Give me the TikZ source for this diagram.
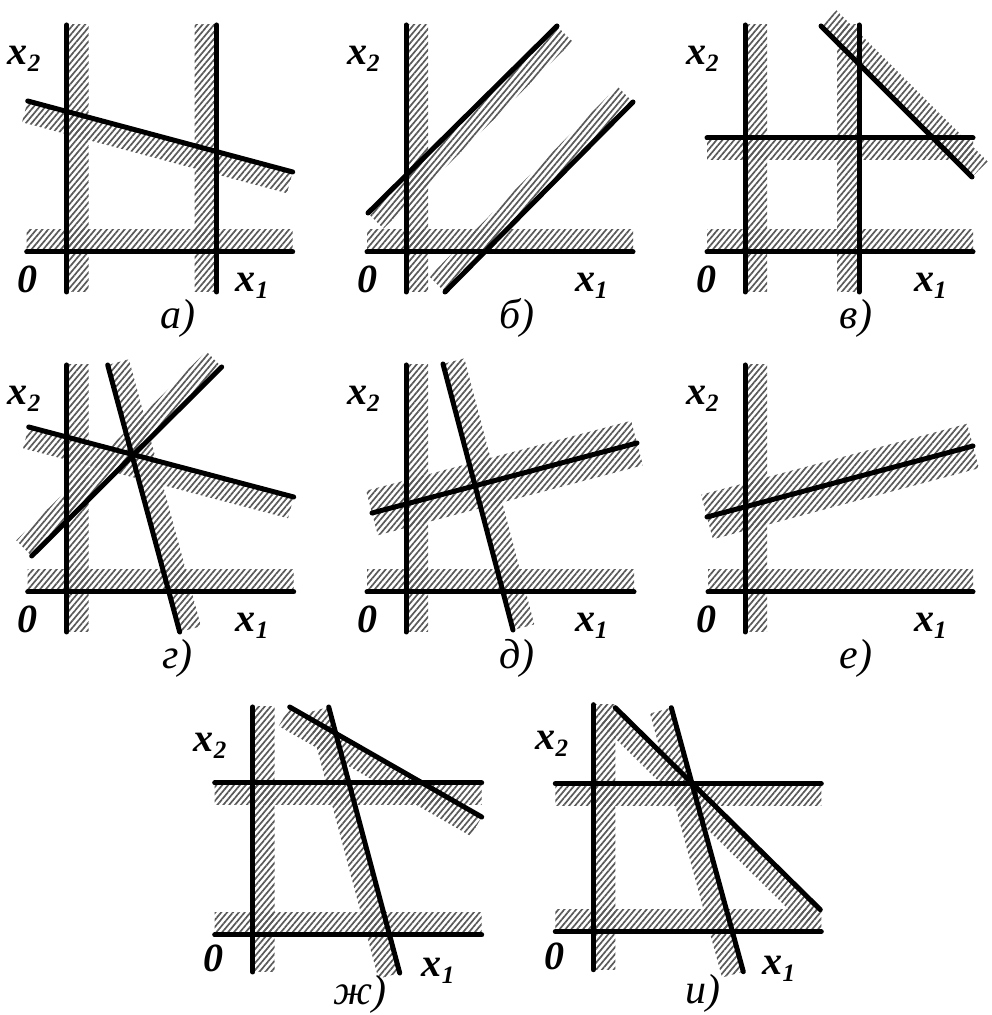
\documentclass[tikz,border=0pt]{standalone}
\usepackage{fontspec}
\setmainfont{Liberation Serif}
\usetikzlibrary{calc,patterns.meta}
\tikzset{
  hatch/.style={pattern={Lines[angle=50,distance=4.5pt,line width=1.7pt]},pattern color=black!65},
  ln/.style={line width=5pt,line cap=round},
  lab/.style={inner sep=0pt,font=\fontsize{40}{40}\selectfont\bfseries\itshape},
  captext/.style={inner sep=0pt,font=\fontsize{42}{42}\selectfont\itshape},
}
\newcommand\sub[1]{\raisebox{-7pt}{\fontsize{25}{25}\selectfont #1}}
% band on the left of A->B (negative width: right side)
\newcommand\hb[3]{\fill[hatch] (#1) -- (#2) -- ($(#2)!#3!-90:(#1)$) -- ($(#1)!#3!90:(#2)$) -- cycle;}
% band centred on A->B
\newcommand\hc[3]{\fill[hatch] ($(#1)!#3!-90:(#2)$) -- ($(#2)!#3!90:(#1)$) -- ($(#2)!#3!-90:(#1)$) -- ($(#1)!#3!90:(#2)$) -- cycle;}
\newcommand\stdlabels[2]{%
  \node[lab,anchor=base west] (#1x2) at (-59,187) {x\sub{2}};
  \node[lab,anchor=base] (#1o) at (-39,-41) {0};
  \node[lab,anchor=base west] (#1x1) at (169,-40) {x\sub{1}};
  \node[captext,anchor=base] (#1c) at (111,-77) {#2};}
\begin{document}
\begin{tikzpicture}[x=1pt,y=1pt]
\useasboundingbox (0,0) rectangle (992,1015);
% ---------- a)
\begin{scope}[shift={(66.7,763)}]
  \coordinate (ay1) at (0,-40); \coordinate (ay2) at (0,227);
  \coordinate (ax1) at (-40,0); \coordinate (ax2) at (226,0);
  \coordinate (av1) at (150,-40); \coordinate (av2) at (150,227);
  \coordinate (as1) at (-39,151); \coordinate (as2) at (226,80);
  \hb{ay1}{ay2}{-22pt} \hb{ax1}{ax2}{22pt} \hb{av1}{av2}{22pt} \hb{as1}{as2}{-22pt}
  \draw[ln] (ay1) -- (ay2); \draw[ln] (ax1) -- (ax2);
  \draw[ln] (av1) -- (av2); \draw[ln] (as1) -- (as2);
  \stdlabels{a}{а)}
\end{scope}
% ---------- b)
\begin{scope}[shift={(406,763)}]
  \coordinate (by1) at (0,-40); \coordinate (by2) at (0,227);
  \coordinate (bx1) at (-39,0); \coordinate (bx2) at (227,0);
  \coordinate (bp1) at (-38,39); \coordinate (bp2) at (151,226);
  \coordinate (bq1) at (39,-40); \coordinate (bq2) at (227,150);
  \hb{by1}{by2}{-22pt} \hb{bx1}{bx2}{22pt} \hb{bp1}{bp2}{-22pt} \hb{bq1}{bq2}{22pt}
  \draw[ln] (by1) -- (by2); \draw[ln] (bx1) -- (bx2);
  \draw[ln] (bp1) -- (bp2); \draw[ln] (bq1) -- (bq2);
  \stdlabels{b}{б)}
\end{scope}
% ---------- v)
\begin{scope}[shift={(745,763)}]
  \coordinate (vy1) at (0,-40); \coordinate (vy2) at (0,227);
  \coordinate (vx1) at (-38,0); \coordinate (vx2) at (228,0);
  \coordinate (vh1) at (-38,114); \coordinate (vh2) at (228,114);
  \coordinate (vv1) at (114,-40); \coordinate (vv2) at (114,227);
  \coordinate (vs1) at (76,226); \coordinate (vs2) at (227,75);
  \hb{vy1}{vy2}{-22pt} \hb{vx1}{vx2}{22pt} \hb{vh1}{vh2}{-22pt} \hb{vv1}{vv2}{22pt} \hb{vs1}{vs2}{22pt}
  \draw[ln] (vy1) -- (vy2); \draw[ln] (vx1) -- (vx2);
  \draw[ln] (vh1) -- (vh2); \draw[ln] (vv1) -- (vv2); \draw[ln] (vs1) -- (vs2);
  \stdlabels{v}{в)}
\end{scope}
% ---------- g)
\begin{scope}[shift={(66.7,423)}]
  \coordinate (gy1) at (0,-40); \coordinate (gy2) at (0,227);
  \coordinate (gx1) at (-39,0); \coordinate (gx2) at (227,0);
  \coordinate (gA1) at (-38,165); \coordinate (gA2) at (227,95);
  \coordinate (gB1) at (-35,36); \coordinate (gB2) at (155,225);
  \coordinate (gC1) at (41,227); \coordinate (gC2) at (113,-40);
  \hb{gy1}{gy2}{-22pt} \hb{gx1}{gx2}{22pt} \hb{gA1}{gA2}{-22pt} \hb{gB1}{gB2}{22pt} \hb{gC1}{gC2}{22pt}
  \draw[ln] (gy1) -- (gy2); \draw[ln] (gx1) -- (gx2);
  \draw[ln] (gA1) -- (gA2); \draw[ln] (gB1) -- (gB2); \draw[ln] (gC1) -- (gC2);
  \stdlabels{g}{г)}
\end{scope}
% ---------- d)
\begin{scope}[shift={(406,423)}]
  \coordinate (dy1) at (0,-40); \coordinate (dy2) at (0,227);
  \coordinate (dx1) at (-39,0); \coordinate (dx2) at (228,0);
  \coordinate (dA1) at (-34,79); \coordinate (dA2) at (231,149);
  \coordinate (dC1) at (37,228); \coordinate (dC2) at (107,-38);
  \hb{dy1}{dy2}{-22pt} \hb{dx1}{dx2}{22pt} \hc{dA1}{dA2}{23pt} \hb{dC1}{dC2}{22pt}
  \draw[ln] (dy1) -- (dy2); \draw[ln] (dx1) -- (dx2);
  \draw[ln] (dA1) -- (dA2); \draw[ln] (dC1) -- (dC2);
  \stdlabels{d}{д)}
\end{scope}
% ---------- e)
\begin{scope}[shift={(745,423)}]
  \coordinate (ey1) at (0,-40); \coordinate (ey2) at (0,227);
  \coordinate (ex1) at (-37,0); \coordinate (ex2) at (228,0);
  \coordinate (eA1) at (-38,75); \coordinate (eA2) at (228,146);
  \hb{ey1}{ey2}{-22pt} \hb{ex1}{ex2}{22pt} \hc{eA1}{eA2}{23pt}
  \draw[ln] (ey1) -- (ey2); \draw[ln] (ex1) -- (ex2); \draw[ln] (eA1) -- (eA2);
  \stdlabels{e}{е)}
\end{scope}
% ---------- zh)
\begin{scope}[shift={(252.7,80)}]
  \coordinate (zy1) at (0,-37); \coordinate (zy2) at (0,228);
  \coordinate (zx1) at (-38,0); \coordinate (zx2) at (229,0);
  \coordinate (zh1) at (-38,152); \coordinate (zh2) at (229,152);
  \coordinate (zs1) at (76,228); \coordinate (zs2) at (147,-38);
  \coordinate (zd1) at (37,228); \coordinate (zd2) at (229,118);
  \hb{zy1}{zy2}{-22pt} \hb{zx1}{zx2}{22pt} \hb{zh1}{zh2}{-22pt} \hb{zs1}{zs2}{-22pt} \hb{zd1}{zd2}{-22pt}
  \draw[ln] (zy1) -- (zy2); \draw[ln] (zx1) -- (zx2); \draw[ln] (zh1) -- (zh2);
  \draw[ln] (zs1) -- (zs2); \draw[ln] (zd1) -- (zd2);
  \node[lab,anchor=base west] (zx2l) at (-59,183) {x\sub{2}};
  \node[lab,anchor=base] (zo) at (-39,-37) {0};
  \node[lab,anchor=base west] (zx1l) at (169,-42) {x\sub{1}};
  \node[captext,anchor=base] (zc) at (107,-70) {ж)};
\end{scope}
% ---------- i)
\begin{scope}[shift={(593.3,83.3)}]
  \coordinate (iy1) at (0,-38); \coordinate (iy2) at (0,227);
  \coordinate (ix1) at (-38,0); \coordinate (ix2) at (228,0);
  \coordinate (ih1) at (-38,148); \coordinate (ih2) at (228,148);
  \coordinate (is1) at (78,224); \coordinate (is2) at (150,-40);
  \coordinate (id1) at (22,224); \coordinate (id2) at (227,22);
  \hb{iy1}{iy2}{-22pt} \hb{ix1}{ix2}{22pt} \hb{ih1}{ih2}{-22pt} \hb{is1}{is2}{-22pt} \hb{id1}{id2}{-22pt}
  \draw[ln] (iy1) -- (iy2); \draw[ln] (ix1) -- (ix2); \draw[ln] (ih1) -- (ih2);
  \draw[ln] (is1) -- (is2); \draw[ln] (id1) -- (id2);
  \node[lab,anchor=base west] (ix2l) at (-58,182) {x\sub{2}};
  \node[lab,anchor=base] (io) at (-39,-38) {0};
  \node[lab,anchor=base west] (ix1l) at (169,-43) {x\sub{1}};
  \node[captext,anchor=base] (ic) at (110,-72) {и)};
\end{scope}
\end{tikzpicture}
\end{document}
